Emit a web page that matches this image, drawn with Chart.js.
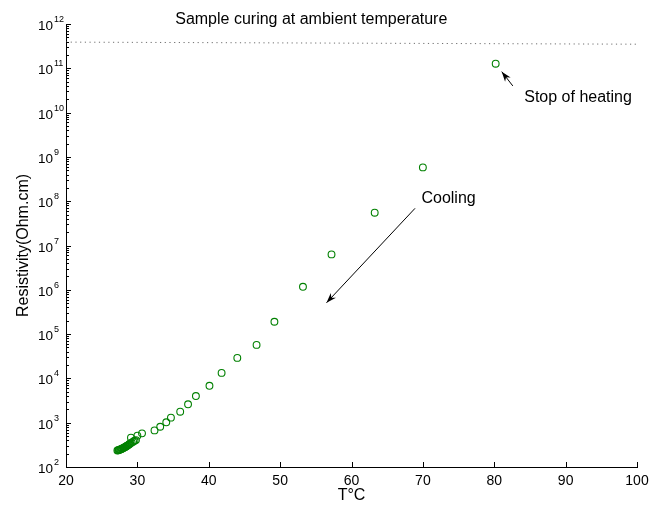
<!DOCTYPE html>
<html lang="en">
<head>
<meta charset="UTF-8" />
<title>Resistivity vs temperature</title>
<script src="https://cdn.jsdelivr.net/npm/chart.js"></script>
<style>
  html, body { margin: 0; padding: 0; background: #fff; }
</style>
</head>
<body>
<canvas id="resChart" width="667" height="507"></canvas>
<script>
// measured points (cooling run)
const tempC = [
  27.2, 27.3, 27.4, 27.5, 27.6, 27.7, 27.8, 27.9, 28.0, 28.1, 28.2, 28.3,
  28.4, 28.5, 28.6, 28.7, 28.8, 28.9, 29.0, 29.2, 29.4, 29.6, 29.8,
  29.1, 30.0, 30.65, 32.4, 33.2, 34.05, 34.7, 36.0, 37.1, 38.2, 40.1,
  41.8, 44.0, 46.7, 49.2, 53.2, 57.2, 63.25, 70.0, 80.2
];
const resistivity = [
  235, 238, 241, 245, 249, 253, 257, 262, 267, 272, 278, 284,
  290, 297, 304, 312, 320, 330, 340, 355, 372, 390, 405,
  460, 510, 575, 670, 810, 1020, 1300, 1770, 2600, 4000, 6800,
  13300, 29000, 57000, 190000, 1.17e6, 6.3e6, 5.5e7, 5.8e8, 1.27e11
];
// dotted reference: sample curing at ambient temperature
const ambientT = [20, 100];
const ambientRes = [3.9e11, 3.5e11];

const xTicks = [20, 30, 40, 50, 60, 70, 80, 90, 100];
const yExponents = [2, 3, 4, 5, 6, 7, 8, 9, 10, 11, 12];

const notes = [
  { text: 'Sample curing at ambient temperature', x: 35.3, y: 1.25e12 },
  { text: 'Stop of heating', x: 84.2, y: 2.14e10 },
  { text: 'Cooling', x: 69.8, y: 1.15e8 }
];
const arrows = [
  { from: [68.9, 6.9e7], to: [56.5, 5.1e5] },
  { from: [82.6, 4.0e10], to: [81.05, 8.4e10] }
];

const FONT = '"Liberation Sans", Arial, Helvetica, sans-serif';
Chart.defaults.font.family = FONT;
Chart.defaults.color = '#000';

function seg(ctx, x1, y1, x2, y2) {
  ctx.beginPath();
  ctx.moveTo(x1, y1);
  ctx.lineTo(x2, y2);
  ctx.stroke();
}

const decor = {
  id: 'decor',
  afterDraw(chart) {
    const { ctx, scales: { x, y } } = chart;
    const left = chart.chartArea.left, bottom = chart.chartArea.bottom;
    ctx.save();
    ctx.strokeStyle = '#000';
    ctx.fillStyle = '#000';
    ctx.lineWidth = 1;

    // y ticks, inward, with minor ticks
    yExponents.forEach((n, i) => {
      const py = Math.round(y.getPixelForValue(10 ** n)) + 0.5;
      seg(ctx, left, py, left + 5, py);
      if (i < yExponents.length - 1) {
        for (let k = 2; k <= 9; k++) {
          const pm = Math.round(y.getPixelForValue(k * 10 ** n)) + 0.5;
          seg(ctx, left, pm, left + 3, pm);
        }
      }
      ctx.textBaseline = 'middle';
      ctx.textAlign = 'right';
      ctx.font = '13.5px ' + FONT;
      ctx.fillText('10', left - 13, py + 1.5);
      ctx.textAlign = 'left';
      ctx.font = '9px ' + FONT;
      ctx.fillText(String(n), left - 12, py - 5);
    });

    // x ticks, inward
    xTicks.forEach(v => {
      const px = Math.round(x.getPixelForValue(v)) + 0.5;
      seg(ctx, px, bottom, px, bottom - 5);
    });

    // annotation text
    ctx.font = '16px ' + FONT;
    ctx.textAlign = 'left';
    ctx.textBaseline = 'middle';
    notes.forEach(n => {
      ctx.fillText(n.text, x.getPixelForValue(n.x), y.getPixelForValue(n.y));
    });

    // arrows
    arrows.forEach(a => {
      const x1 = x.getPixelForValue(a.from[0]), y1 = y.getPixelForValue(a.from[1]);
      const x2 = x.getPixelForValue(a.to[0]), y2 = y.getPixelForValue(a.to[1]);
      seg(ctx, x1, y1, x2, y2);
      const ang = Math.atan2(y2 - y1, x2 - x1);
      const len = 10, half = 3.5, notch = 7;
      const ux = Math.cos(ang), uy = Math.sin(ang);
      ctx.beginPath();
      ctx.moveTo(x2, y2);
      ctx.lineTo(x2 - ux * len - uy * half, y2 - uy * len + ux * half);
      ctx.lineTo(x2 - ux * notch, y2 - uy * notch);
      ctx.lineTo(x2 - ux * len + uy * half, y2 - uy * len - ux * half);
      ctx.closePath();
      ctx.fill();
    });
    ctx.restore();
  }
};

new Chart(document.getElementById('resChart'), {
  type: 'scatter',
  data: {
    datasets: [
      {
        label: 'ambient',
        data: ambientT.map((t, i) => ({ x: t, y: ambientRes[i] })),
        showLine: true,
        pointRadius: 0,
        borderColor: '#6f6f6f',
        borderWidth: 1,
        borderDash: [1.2, 3.5]
      },
      {
        label: 'resistivity',
        data: tempC.map((t, i) => ({ x: t, y: resistivity[i] })),
        pointStyle: 'circle',
        pointRadius: 3.4,
        borderWidth: 1.1,
        borderColor: '#008000',
        backgroundColor: 'rgba(0,0,0,0)'
      }
    ]
  },
  options: {
    responsive: false,
    animation: false,
    layout: { padding: { left: 0, right: 30, top: 24, bottom: 0 } },
    plugins: { legend: { display: false }, tooltip: { enabled: false } },
    scales: {
      x: {
        type: 'linear',
        min: 20,
        max: 100,
        afterBuildTicks: s => { s.ticks = xTicks.map(v => ({ value: v })); },
        afterFit: s => { s.height = 40; },
        grid: { display: false, drawTicks: false },
        border: { display: true, color: '#000', width: 1 },
        ticks: { font: { size: 14 }, padding: 6, maxRotation: 0 },
        title: { display: true, text: 'T°C', font: { size: 16 }, padding: { top: 0, bottom: 2 } }
      },
      y: {
        type: 'logarithmic',
        min: 100,
        max: 1e12,
        afterFit: s => { s.width = 66; },
        grid: { display: false, drawTicks: false },
        border: { display: true, color: '#000', width: 1 },
        ticks: { display: false },
        title: { display: true, text: 'Resistivity(Ohm.cm)', font: { size: 16 }, padding: { top: 14, bottom: 0 } }
      }
    }
  },
  plugins: [decor]
});
</script>
</body>
</html>
